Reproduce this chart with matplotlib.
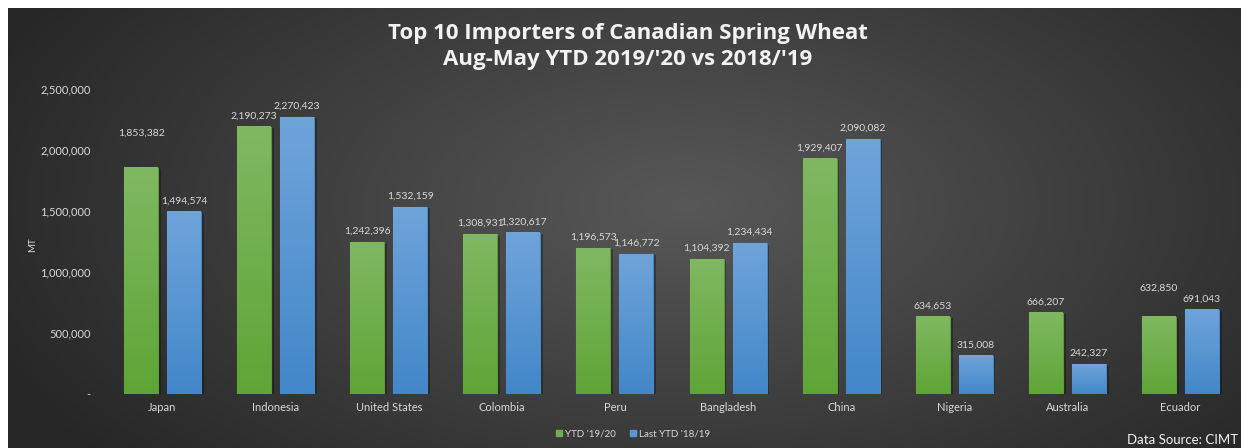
import numpy as np
import matplotlib
matplotlib.use('Agg')
import matplotlib.pyplot as plt
from matplotlib.colors import LinearSegmentedColormap
from matplotlib import patheffects as pe
from matplotlib.ticker import FuncFormatter

countries = ['Japan', 'Indonesia', 'United States', 'Colombia', 'Peru',
             'Bangladesh', 'China', 'Nigeria', 'Australia', 'Ecuador']
ytd_1920 = [1853382, 2190273, 1242396, 1308931, 1196573,
            1104392, 1929407, 634653, 666207, 632850]
ytd_1819 = [1494574, 2270423, 1532159, 1320617, 1146772,
            1234434, 2090082, 315008, 242327, 691043]
series_names = ["YTD '19/20", "Last YTD '18/19"]

plt.rcParams['font.family'] = ['Lato', 'DejaVu Sans']

W, H = 1241, 448
fig = plt.figure(figsize=(W / 100, H / 100), dpi=100, facecolor='white')

# dark radial background
bg = fig.add_axes([8 / W, 0, (W - 8) / W, (H - 8) / H])
gx, gy = np.meshgrid(np.linspace(0, 1, 600), np.linspace(0, 1, 300))
r = np.sqrt(((gx - 0.55) / 0.62) ** 2 + ((gy - 0.45) / 0.9) ** 2)
r = np.clip(r, 0, 1)
shade = 0.345 - (0.345 - 0.15) * r
bg.imshow(np.dstack([shade, shade, shade]), extent=[0, 1, 0, 1],
          aspect='auto', origin='upper')
bg.set_axis_off()

ax = fig.add_axes([106 / W, 54 / H, 1131 / W, 305 / H])
ax.patch.set_alpha(0)

x = np.arange(len(countries))
bw = 0.30
off = 0.19
txt = '#d9d9d9'

green_cm = LinearSegmentedColormap.from_list('g', ['#80b862', '#5fa536'])
blue_cm = LinearSegmentedColormap.from_list('b', ['#6fa4da', '#4287c9'])
grad = np.linspace(0, 1, 100).reshape(-1, 1)

extra_lift = {(0, 0): 17, (0, 9): 13}

for si, (vals, cm, edge, face) in enumerate([
        (ytd_1920, green_cm, '#5e9a3c', '#6fae4c'),
        (ytd_1819, blue_cm, '#4a86c0', '#5a96d2')]):
    xs = x - off if si == 0 else x + off
    bars = ax.bar(xs, vals, width=bw, color=face, edgecolor=edge, linewidth=0.8,
                  zorder=2, label=series_names[si],
                  path_effects=[pe.SimplePatchShadow(offset=(2, -1), alpha=0.3,
                                                     shadow_rgbFace='black'),
                                pe.Normal()])
    for i, b in enumerate(bars):
        ax.imshow(grad, extent=[b.get_x(), b.get_x() + bw, 0, b.get_height()],
                  aspect='auto', cmap=cm, origin='upper', clip_path=b, zorder=2.5)
        lift = 4.5 + extra_lift.get((si, i), 0)
        ax.annotate(f'{vals[i]:,}', (xs[i], vals[i]), xytext=(0, lift),
                    textcoords='offset points', ha='center', va='bottom',
                    fontsize=7.5, color=txt, zorder=4)

ax.set_xlim(-0.5, len(countries) - 0.5)
ax.set_ylim(0, 2500000)
ax.set_yticks(np.arange(0, 2500001, 500000))
ax.yaxis.set_major_formatter(FuncFormatter(lambda v, p: '-' if v == 0 else f'{int(v):,}'))
ax.set_xticks(x)
ax.set_xticklabels(countries)
ax.tick_params(axis='both', length=0, labelsize=8, colors=txt)
ax.tick_params(axis='y', pad=11)
ax.tick_params(axis='x', pad=6)
for s in ax.spines.values():
    s.set_visible(False)

fig.text(33 / W, 1 - 245 / H, 'MT', rotation=90, ha='center', va='center',
         fontsize=7, color=txt)

fig.text(628 / W, 1 - 33 / H, 'Top 10 Importers of Canadian Spring Wheat',
         ha='center', va='center', fontsize=16, fontweight='bold', color='#f2f2f2',
         family=['Open Sans', 'DejaVu Sans'])
fig.text(628 / W, 1 - 60 / H, "Aug-May YTD 2019/'20 vs 2018/'19",
         ha='center', va='center', fontsize=16, fontweight='bold', color='#f2f2f2',
         family=['Open Sans', 'DejaVu Sans'])

h = [plt.Rectangle((0, 0), 1, 1, color='#6fae4c'), plt.Rectangle((0, 0), 1, 1, color='#5a96d2')]
fig.legend(h, series_names, loc='center', bbox_to_anchor=(633 / W, 1 - 434 / H),
           ncol=2, frameon=False, fontsize=7, labelcolor=txt,
           handlelength=0.6, handleheight=0.6, handletextpad=0.3, columnspacing=1.5)

fig.text(1238 / W, 1 - 440 / H, 'Data Source: CIMT', ha='right', va='center',
         fontsize=9.5, color='#f2f2f2')

fig.savefig('out.png', dpi=100, facecolor='white')
